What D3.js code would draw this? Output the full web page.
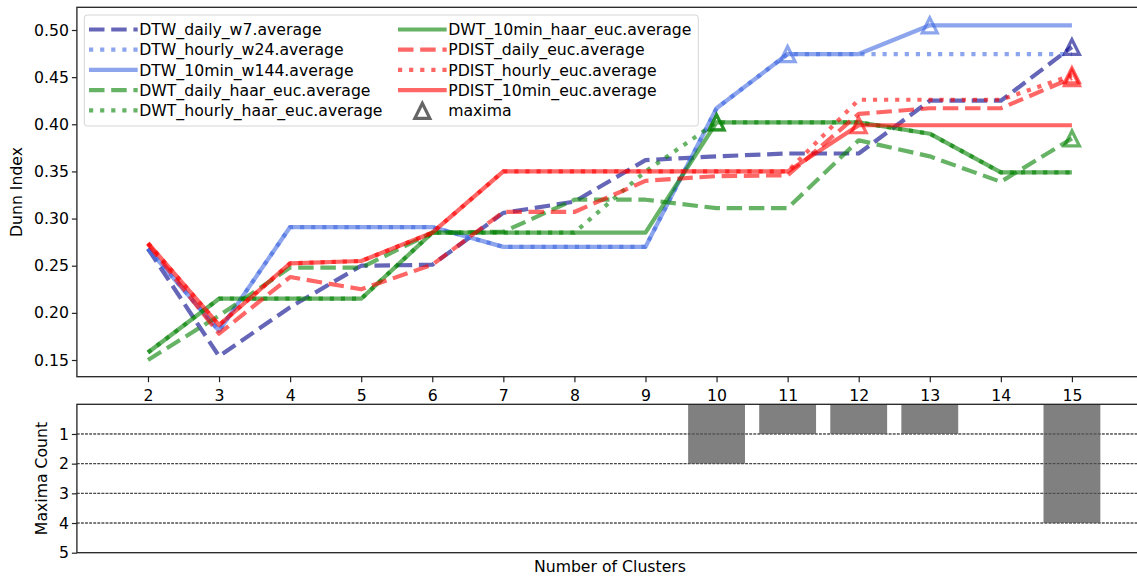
<!DOCTYPE html>
<html>
<head>
<meta charset="utf-8">
<script src="https://cdn.jsdelivr.net/npm/d3@7/dist/d3.min.js"></script>
<style>
body { margin: 0; background: #fff; }
text { font-family: "DejaVu Sans", sans-serif; fill: #000; }
</style>
</head>
<body>
<svg id="chart" width="1137" height="577"></svg>
<script>
// cluster counts on the x axis
var clusters = [2, 3, 4, 5, 6, 7, 8, 9, 10, 11, 12, 13, 14, 15];
var dunnTicks = [0.15, 0.20, 0.25, 0.30, 0.35, 0.40, 0.45, 0.50];
var countTicks = [1, 2, 3, 4, 5];

// Dunn index per method
var dtwDaily   = [0.268, 0.154, 0.206, 0.250, 0.251, 0.306, 0.318, 0.362, 0.366, 0.369, 0.369, 0.425, 0.425, 0.482];
var dtwHourly  = [0.268, 0.181, 0.291, 0.291, 0.291, 0.270, 0.270, 0.270, 0.417, 0.4745, 0.4745, 0.4745, 0.4745, 0.4745];
var dtw10min   = [0.268, 0.181, 0.291, 0.291, 0.291, 0.270, 0.270, 0.270, 0.417, 0.4745, 0.4745, 0.505, 0.505, 0.505];
var dwtDaily   = [0.150, 0.197, 0.248, 0.248, 0.285, 0.286, 0.320, 0.320, 0.311, 0.311, 0.383, 0.366, 0.339, 0.385];
var dwtHourly  = [0.158, 0.215, 0.215, 0.215, 0.285, 0.285, 0.285, 0.350, 0.402, 0.402, 0.402, 0.390, 0.349, 0.349];
var dwt10min   = [0.158, 0.215, 0.215, 0.215, 0.285, 0.285, 0.285, 0.285, 0.402, 0.402, 0.402, 0.390, 0.349, 0.349];
var pdistDaily = [0.273, 0.178, 0.238, 0.225, 0.251, 0.307, 0.307, 0.340, 0.345, 0.346, 0.411, 0.417, 0.417, 0.449];
var pdistHourly= [0.274, 0.187, 0.2525, 0.255, 0.285, 0.350, 0.350, 0.350, 0.350, 0.350, 0.426, 0.426, 0.426, 0.452];
var pdist10min = [0.274, 0.187, 0.2525, 0.255, 0.285, 0.350, 0.350, 0.350, 0.350, 0.350, 0.399, 0.399, 0.399, 0.399];

var seriesNames = ["DTW_daily_w7.average", "DTW_hourly_w24.average", "DTW_10min_w144.average",
  "DWT_daily_haar_euc.average", "DWT_hourly_haar_euc.average", "DWT_10min_haar_euc.average",
  "PDIST_daily_euc.average", "PDIST_hourly_euc.average", "PDIST_10min_euc.average"];
var seriesValues = [dtwDaily, dtwHourly, dtw10min, dwtDaily, dwtHourly, dwt10min, pdistDaily, pdistHourly, pdist10min];

// styles
var colors = ["darkblue", "royalblue", "royalblue", "green", "green", "green", "red", "red", "red"];
var lw = 4.2;
var dashes = { dashed: "15.5,6.7", dotted: "4.2,6.9", solid: null };
var styles = ["dashed", "dotted", "solid", "dashed", "dotted", "solid", "dashed", "dotted", "solid"];
var fontSize = "15.7px";

var svg = d3.select("#chart");

var x = d3.scaleLinear().domain([1, 16]).range([76.9, 1143]);
var y = d3.scaleLinear().domain([0.15, 0.50]).range([360, 30]);
var yc = d3.scaleLinear().domain([0, 5]).range([404.3, 552.7]);

var topY0 = 7.3, topY1 = 376.7;

// top axes
var gx = svg.append("g").attr("transform", "translate(0," + topY1 + ")")
  .call(d3.axisBottom(x).tickValues(clusters).tickSize(5.5).tickPadding(7.5));
var gy = svg.append("g").attr("transform", "translate(" + x(1) + ",0)")
  .call(d3.axisLeft(y).tickValues(dunnTicks).tickFormat(d3.format(".2f")).tickSize(5).tickPadding(3));

// bottom axes
svg.append("g").selectAll("line").data(countTicks.slice(0, 4)).join("line")
  .attr("x1", x(1)).attr("x2", 1137)
  .attr("y1", d => yc(d)).attr("y2", d => yc(d))
  .attr("stroke", "#333").attr("stroke-width", 0.8).attr("stroke-dasharray", "2.8,1.3");

var counts = clusters.map(() => 0);
seriesValues.forEach(v => { counts[d3.maxIndex(v)] += 1; });

svg.append("g").selectAll("rect").data(clusters).join("rect")
  .attr("x", d => x(d - 0.4)).attr("width", x(1.8) - x(1))
  .attr("y", yc(0)).attr("height", (d, i) => yc(counts[i]) - yc(0))
  .attr("fill", "gray");

// grid on top of bars (matplotlib default)
svg.append("g").selectAll("line").data(countTicks.slice(0, 4)).join("line")
  .attr("x1", x(1)).attr("x2", 1137)
  .attr("y1", d => yc(d)).attr("y2", d => yc(d))
  .attr("stroke", "#333").attr("stroke-width", 0.8).attr("stroke-dasharray", "2.8,1.3");

var gyc = svg.append("g").attr("transform", "translate(" + x(1) + ",0)")
  .call(d3.axisLeft(yc).tickValues(countTicks).tickFormat(d3.format("d")).tickSize(5).tickPadding(3));

[gx, gy, gyc].forEach(g => {
  g.select(".domain").remove();
  g.selectAll(".tick line").attr("stroke", "#222").attr("stroke-width", 1.2);
  g.selectAll("text").attr("font-size", fontSize).attr("font-family", "DejaVu Sans").attr("fill", "#000");
});

// spines
svg.append("rect").attr("x", x(1)).attr("y", topY0).attr("width", 1143 - x(1)).attr("height", topY1 - topY0)
  .attr("fill", "none").attr("stroke", "#222").attr("stroke-width", 1.3);
svg.append("rect").attr("x", x(1)).attr("y", yc(0)).attr("width", 1143 - x(1)).attr("height", yc(5) - yc(0))
  .attr("fill", "none").attr("stroke", "#222").attr("stroke-width", 1.3);

// lines
var line = d3.line().x((d, i) => x(clusters[i])).y(d => y(d));
var plot = svg.append("g");
seriesValues.forEach((v, k) => {
  plot.append("path").attr("d", line(v))
    .attr("fill", "none").attr("stroke", colors[k]).attr("stroke-opacity", 0.6)
    .attr("stroke-width", lw).attr("stroke-dasharray", dashes[styles[k]])
    .attr("stroke-linejoin", "round");
});

function tri(cx, cy, r) {
  return "M" + cx + "," + (cy - r) + "L" + (cx - r) + "," + (cy + r) + "L" + (cx + r) + "," + (cy + r) + "Z";
}

// maxima markers
seriesValues.forEach((v, k) => {
  var i = d3.maxIndex(v);
  plot.append("path").attr("d", tri(x(clusters[i]), y(v[i]), 7.5))
    .attr("fill", "none").attr("stroke", colors[k]).attr("stroke-opacity", 0.6)
    .attr("stroke-width", 3.2).attr("stroke-linejoin", "miter");
});

// legend
var leg = svg.append("g");
leg.append("rect").attr("x", 84.3).attr("y", 15).attr("width", 614).attr("height", 111)
  .attr("rx", 3).attr("fill", "#fff").attr("fill-opacity", 0.8)
  .attr("stroke", "#d5d5d5").attr("stroke-width", 1);
var colX = [89, 398], hlen = 48.7;
var legendItems = seriesNames.concat(["maxima"]);
legendItems.forEach((name, k) => {
  var col = Math.floor(k / 5), row = k % 5;
  var ly = 29.5 + row * 20.2, lx = colX[col];
  if (k < 9) {
    leg.append("line").attr("x1", lx).attr("x2", lx + hlen).attr("y1", ly).attr("y2", ly)
      .attr("stroke", colors[k]).attr("stroke-opacity", 0.6).attr("stroke-width", lw)
      .attr("stroke-dasharray", dashes[styles[k]]);
  } else {
    leg.append("path").attr("d", tri(lx + hlen / 2, ly + 0.5, 7.5))
      .attr("fill", "none").attr("stroke", "#000").attr("stroke-opacity", 0.6).attr("stroke-width", 3.2);
  }
  leg.append("text").attr("x", lx + hlen + 1.5).attr("y", ly).attr("dy", "0.36em")
    .attr("font-size", fontSize).text(name);
});

// axis titles
svg.append("text").attr("transform", "translate(22," + ((topY0 + topY1) / 2) + ") rotate(-90)")
  .attr("text-anchor", "middle").attr("font-size", fontSize).text("Dunn Index");
svg.append("text").attr("transform", "translate(47," + ((yc(0) + yc(5)) / 2) + ") rotate(-90)")
  .attr("text-anchor", "middle").attr("font-size", fontSize).text("Maxima Count");
svg.append("text").attr("x", (x(1) + x(16)) / 2).attr("y", 571.5)
  .attr("text-anchor", "middle").attr("font-size", fontSize).text("Number of Clusters");
</script>
</body>
</html>
